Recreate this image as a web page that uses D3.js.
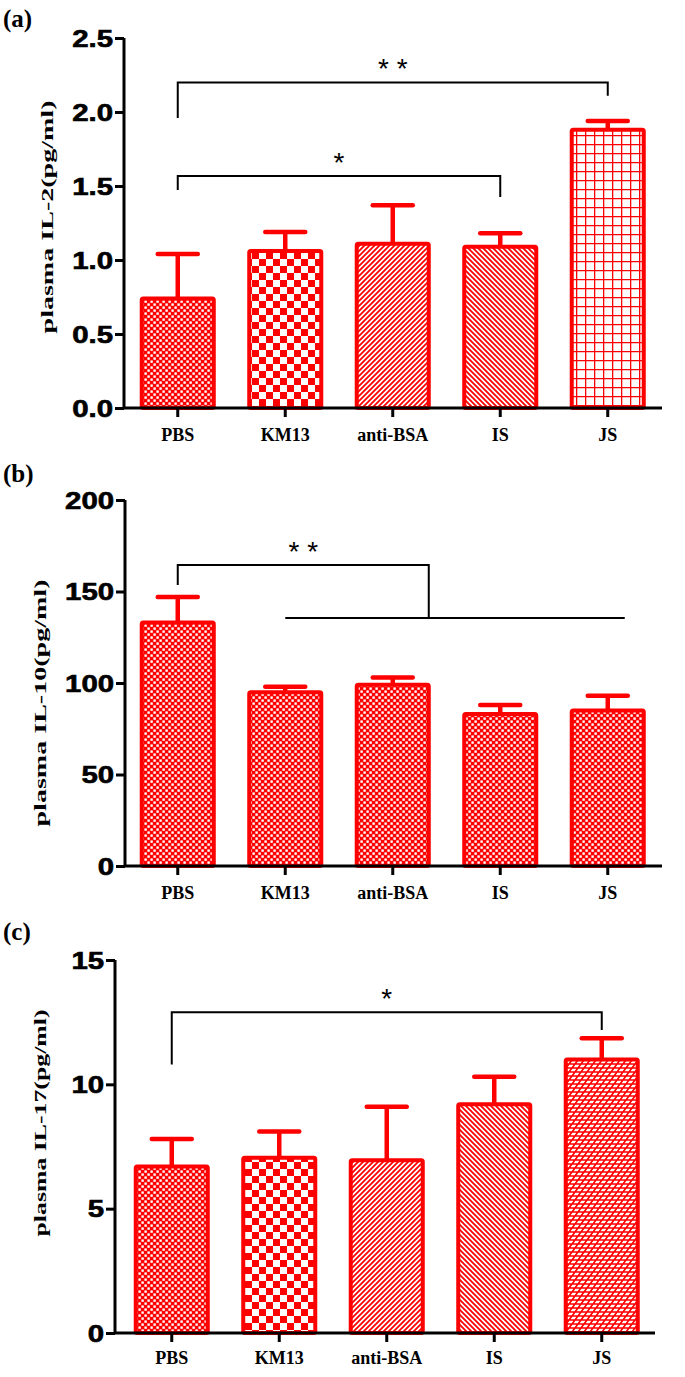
<!DOCTYPE html>
<html><head><meta charset="utf-8">
<script src="https://cdn.jsdelivr.net/npm/d3@7"></script>
<style>body{margin:0;background:#fff}svg{display:block}</style>
</head><body>
<script>
const categories = ["PBS","KM13","anti-BSA","IS","JS"];
const il2Mean = [0.74,1.06,1.11,1.09,1.88];
const il2Sem  = [0.30,0.13,0.26,0.09,0.06];
const il10Mean = [133,95,99,83,85];
const il10Sem  = [14,3,4,5,8];
const il17Mean = [6.7,7.05,6.95,9.2,11.0];
const il17Sem  = [1.1,1.05,2.15,1.1,0.85];
const il2Ticks = [0,0.5,1.0,1.5,2.0,2.5];
const il10Ticks = [0,50,100,150,200];
const il17Ticks = [0,5,10,15];
const panelLabels = ["(a)","(b)","(c)"];
const yTitles = ["plasma IL-2(pg/ml)","plasma IL-10(pg/ml)","plasma IL-17(pg/ml)"];

const W=685,H=1377,RED="#ff0000";
const SERIF="Liberation Serif, Times New Roman, serif", SANS="Liberation Sans, Arial, sans-serif";
const svg=d3.select("body").append("svg").attr("width",W).attr("height",H);
const defs=svg.append("defs");
function pat(id,w,h,draw){const p=defs.append("pattern").attr("id",id).attr("patternUnits","userSpaceOnUse").attr("width",w).attr("height",h);p.append("rect").attr("width",w).attr("height",h).attr("fill","#fff");draw(p);}
pat("fine",6,6,p=>{p.append("rect").attr("width",6).attr("height",6).attr("fill",RED);p.append("rect").attr("x",0.4).attr("y",0.4).attr("width",2.4).attr("height",2.4).attr("fill","#fff");p.append("rect").attr("x",3.4).attr("y",3.4).attr("width",2.4).attr("height",2.4).attr("fill","#fff");});
pat("coarse",14,14,p=>{p.append("rect").attr("width",7).attr("height",7).attr("fill",RED);p.append("rect").attr("x",7).attr("y",7).attr("width",7).attr("height",7).attr("fill",RED);});
pat("fwd",5,5,p=>{p.append("path").attr("d","M-1,6 L6,-1 M-1,1 L1,-1 M4,6 L6,4").attr("stroke",RED).attr("stroke-width",1.8);});
pat("back",5,5,p=>{p.append("path").attr("d","M-1,-1 L6,6 M4,-1 L6,1 M-1,4 L1,6").attr("stroke",RED).attr("stroke-width",1.8);});
pat("grid",9,9,p=>{p.append("path").attr("d","M0,0 H9 M0,0 V9").attr("stroke",RED).attr("stroke-width",2.6);});
pat("brick",12,8,p=>{p.append("path").attr("d","M0,0 H12 M0,4 H12 M0,8 H12 M2,4 L5,0 M8,4 L11,0 M-1,8 L2,4 M5,8 L8,4 M11,8 L14,4").attr("stroke",RED).attr("stroke-width",1.6);});

const panels=[
 {mean:il2Mean,sem:il2Sem,ticks:il2Ticks,fmt:d3.format(".1f"),max:2.5,top:38,bottom:408,axisX:124,bandStart:124,xEnd:662,
  pats:["fine","coarse","fwd","back","grid"],label:panelLabels[0],labelY:27,title:yTitles[0],titleX:47,titleY:217,titleLen:233,pad:11,
  brackets:[{from:"PBS",to:"JS",y:2.20,l:1.96,r:2.11,star:"* *"},{from:"PBS",to:"IS",y:1.568,l:1.473,r:1.426,star:"*"}]},
 {mean:il10Mean,sem:il10Sem,ticks:il10Ticks,fmt:d3.format("d"),max:200,top:500,bottom:866,axisX:125,bandStart:124,xEnd:662,
  pats:["fine","fine","fine","fine","fine"],label:panelLabels[1],labelY:482,title:yTitles[1],titleX:40,titleY:703,titleLen:247,pad:11,
  brackets:[]},
 {mean:il17Mean,sem:il17Sem,ticks:il17Ticks,fmt:d3.format("d"),max:15,top:960,bottom:1333,axisX:115,bandStart:118,xEnd:655,
  pats:["fine","coarse","fwd","back","brick"],label:panelLabels[2],labelY:940,title:yTitles[2],titleX:40,titleY:1123,titleLen:227,pad:9,
  brackets:[{from:"PBS",to:"JS",y:12.9,l:10.8,r:12.18,star:"*"}]}
];

panels.forEach((P,pi)=>{
  const g=svg.append("g");
  const x=d3.scaleBand().domain(categories).range([P.bandStart,P.bandStart+537.5]).paddingInner(0.33).paddingOuter(0.165);
  const y=d3.scaleLinear().domain([0,P.max]).range([P.bottom,P.top]);
  const bw=x.bandwidth();
  categories.forEach((c,i)=>{
    const cx=x(c)+bw/2;
    const top=y(P.mean[i]), et=y(P.mean[i]+P.sem[i]);
    g.append("line").attr("x1",cx).attr("x2",cx).attr("y1",top).attr("y2",et).attr("stroke",RED).attr("stroke-width",4.5);
    g.append("line").attr("x1",cx-20).attr("x2",cx+20).attr("y1",et).attr("y2",et).attr("stroke",RED).attr("stroke-width",4.5).attr("stroke-linecap","round");
    g.append("rect").attr("x",x(c)).attr("y",top).attr("width",bw).attr("height",y(0)-top)
      .attr("fill",`url(#${P.pats[i]})`).attr("stroke",RED).attr("stroke-width",4).attr("rx",1.5);
  });
  const ya=g.append("g").attr("transform",`translate(${P.axisX},0)`).call(d3.axisLeft(y).tickValues(P.ticks).tickFormat(P.fmt).tickSize(9).tickPadding(2));
  ya.select(".domain").attr("d",`M0,${P.top}V${P.bottom}`).attr("stroke","#000").attr("stroke-width",3);
  ya.selectAll(".tick line").attr("stroke","#000").attr("stroke-width",3);
  ya.selectAll(".tick text").attr("font-family",SANS).attr("font-weight","bold").attr("font-size",23).attr("fill","#000")
    .attr("stroke","#000").attr("stroke-width",0.6)
    .attr("transform","scale(1.28,1)").attr("x",-8.5).attr("dy","0.36em");
  const xa=g.append("g").attr("transform",`translate(0,${P.bottom})`).call(d3.axisBottom(x).tickSize(9).tickPadding(P.pad));
  xa.select(".domain").attr("d",`M${P.axisX},0H${P.xEnd}`).attr("stroke","#000").attr("stroke-width",3);
  xa.selectAll(".tick line").attr("stroke","#000").attr("stroke-width",3);
  xa.selectAll(".tick text").attr("font-family",SERIF).attr("font-weight","bold").attr("font-size",18).attr("fill","#000").attr("dy","0.71em");
  g.append("text").attr("transform",`translate(${P.titleX},${P.titleY}) rotate(-90)`).attr("text-anchor","middle").attr("dy","0.35em")
    .attr("font-family",SERIF).attr("font-weight","bold").attr("font-size",17)
    .attr("textLength",P.titleLen).attr("lengthAdjust","spacingAndGlyphs").text(P.title);
  g.append("text").attr("x",3).attr("y",P.labelY).attr("font-family",SERIF).attr("font-weight","bold").attr("font-size",25).text(P.label);
  P.brackets.forEach(b=>{
    const x1=x(b.from)+bw/2,x2=x(b.to)+bw/2;
    g.append("path").attr("d",`M${x1},${y(b.l)}V${y(b.y)}H${x2}V${y(b.r)}`).attr("fill","none").attr("stroke","#000").attr("stroke-width",2);
    g.append("text").attr("x",(x1+x2)/2).attr("y",y(b.y)-4).attr("text-anchor","middle").attr("font-family",SANS).attr("font-size",28).text(b.star);
  });
  if(pi===1){
    const x1=x("PBS")+bw/2, xk=x("KM13")+bw/2, xj=x("JS")+bw/2;
    const yTop=y(164.5), yL=y(153.6), yLine=y(135.5);
    const xm=x("anti-BSA")+bw;
    g.append("path").attr("d",`M${x1},${yL}V${yTop}H${xm}V${yLine}`).attr("fill","none").attr("stroke","#000").attr("stroke-width",2);
    g.append("path").attr("d",`M${xk},${yLine}H${xj+17}`).attr("fill","none").attr("stroke","#000").attr("stroke-width",2);
    g.append("text").attr("x",(x1+xm)/2).attr("y",yTop-4).attr("text-anchor","middle").attr("font-family",SANS).attr("font-size",28).text("* *");
  }
});
</script>
</body></html>
